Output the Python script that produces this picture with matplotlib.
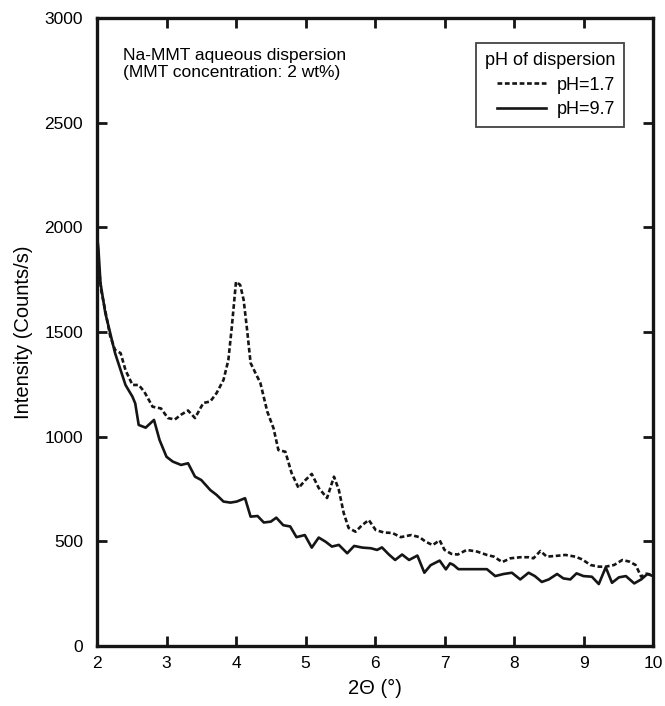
import matplotlib
matplotlib.use("Agg")
import matplotlib.pyplot as plt

plt.rcParams['font.family'] = ['Liberation Sans', 'DejaVu Sans']

# pH = 1.7 (dashed)
x_acid = [2.0, 2.03, 2.06, 2.12, 2.19, 2.26, 2.34, 2.41, 2.51, 2.6, 2.68, 2.8, 2.92, 3.02, 3.12,
          3.21, 3.31, 3.41, 3.53, 3.63, 3.72, 3.82, 3.89, 3.94, 4.0, 4.06, 4.11, 4.16, 4.21,
          4.28, 4.35, 4.45, 4.54, 4.61, 4.71, 4.8, 4.9, 5.0, 5.09, 5.19, 5.31, 5.41, 5.48,
          5.55, 5.62, 5.72, 5.81, 5.91, 6.01, 6.13, 6.25, 6.37, 6.52, 6.64, 6.73, 6.83, 6.93,
          7.0, 7.1, 7.19, 7.32, 7.47, 7.61, 7.71, 7.83, 7.95, 8.09, 8.21, 8.28, 8.38, 8.47,
          8.59, 8.74, 8.88, 8.98, 9.1, 9.22, 9.32, 9.44, 9.56, 9.66, 9.75, 9.83, 9.9, 10.0]
y_acid = [1950, 1800, 1700, 1600, 1480, 1414, 1399, 1318, 1247, 1247, 1215, 1143, 1135, 1089, 1082,
          1105, 1125, 1089, 1161, 1168, 1208, 1271, 1366, 1525, 1740, 1725, 1653, 1509, 1352,
          1304, 1257, 1120, 1040, 936, 928, 826, 755, 793, 822, 755, 707, 809, 745,
          635, 564, 546, 576, 602, 554, 542, 540, 520, 530, 520, 498, 482, 505,
          459, 440, 437, 459, 451, 435, 427, 401, 419, 424, 424, 419, 454, 427,
          430, 435, 427, 414, 387, 379, 379, 387, 411, 403, 387, 331, 345, 340]

# pH = 9.7 (solid)
x_base = [2.0, 2.02, 2.05, 2.12, 2.19, 2.26, 2.34, 2.41, 2.51, 2.55, 2.6, 2.7, 2.82, 2.9, 3.0,
          3.09, 3.21, 3.31, 3.41, 3.5, 3.63, 3.72, 3.82, 3.92, 4.01, 4.13, 4.21, 4.31, 4.4,
          4.5, 4.58, 4.68, 4.78, 4.87, 4.99, 5.09, 5.19, 5.29, 5.38, 5.48, 5.6, 5.7, 5.82,
          5.94, 6.03, 6.1, 6.2, 6.29, 6.39, 6.49, 6.61, 6.71, 6.8, 6.93, 7.02, 7.08, 7.13,
          7.2, 7.37, 7.61, 7.73, 7.85, 7.97, 8.09, 8.21, 8.3, 8.4, 8.5, 8.62, 8.71, 8.81,
          8.9, 9.0, 9.12, 9.22, 9.32, 9.41, 9.51, 9.61, 9.73, 9.83, 9.92, 10.0]
y_base = [1960, 1900, 1734, 1590, 1495, 1399, 1318, 1247, 1191, 1159, 1056, 1043, 1080, 984, 904,
          881, 865, 873, 809, 793, 745, 722, 690, 685, 690, 706, 618, 621, 590,
          594, 613, 577, 571, 520, 530, 470, 518, 498, 475, 483, 443, 478, 470,
          467, 459, 471, 437, 411, 437, 411, 432, 350, 386, 408, 366, 395, 387,
          367, 367, 367, 334, 344, 350, 318, 350, 334, 306, 318, 344, 323, 318,
          347, 334, 331, 296, 376, 302, 328, 334, 299, 318, 344, 334]

x_ticks = [2, 3, 4, 5, 6, 7, 8, 9, 10]
y_ticks = [0, 500, 1000, 1500, 2000, 2500, 3000]

fig = plt.figure(figsize=(6.65, 7.06), dpi=100)
ax = fig.add_axes([97/665, 1 - 646/706, (653 - 97)/665, (646 - 18)/706])

ax.plot(x_acid, y_acid, color='#151515', lw=1.9, linestyle=(0, (1.8, 1.0)), label='pH=1.7')
ax.plot(x_base, y_base, color='#151515', lw=1.9, linestyle='-', label='pH=9.7')

ax.set_xlim(2, 10)
ax.set_ylim(0, 3000)
ax.set_xticks(x_ticks)
ax.set_yticks(y_ticks)
ax.tick_params(direction='in', length=7, width=2, labelsize=12.5, color='#151515',
               top=True, right=True, labeltop=False, labelright=False)
ax.tick_params(axis='x', pad=7)
ax.tick_params(axis='y', pad=10)
for s in ax.spines.values():
    s.set_linewidth(2.4)
    s.set_color('#151515')

ax.set_xlabel('2\u0398 (\u00b0)', fontsize=14.5, labelpad=6)
ax.set_ylabel('Intensity (Counts/s)', fontsize=14.5, labelpad=8)

ax.text(0.047, 0.952, 'Na-MMT aqueous dispersion\n(MMT concentration: 2 wt%)',
        transform=ax.transAxes, fontsize=12.5, va='top', ha='left', linespacing=1.15)

leg = ax.legend(title='pH of dispersion', loc='upper right', bbox_to_anchor=(0.948, 0.96),
                fontsize=13, title_fontsize=13, frameon=True, fancybox=False,
                handlelength=2.7, handletextpad=0.6, borderpad=0.5, labelspacing=0.42,
                alignment='right', borderaxespad=0)
leg.get_frame().set_edgecolor('#151515')
leg.get_frame().set_linewidth(1.3)

fig.savefig('out.png', dpi=100)
